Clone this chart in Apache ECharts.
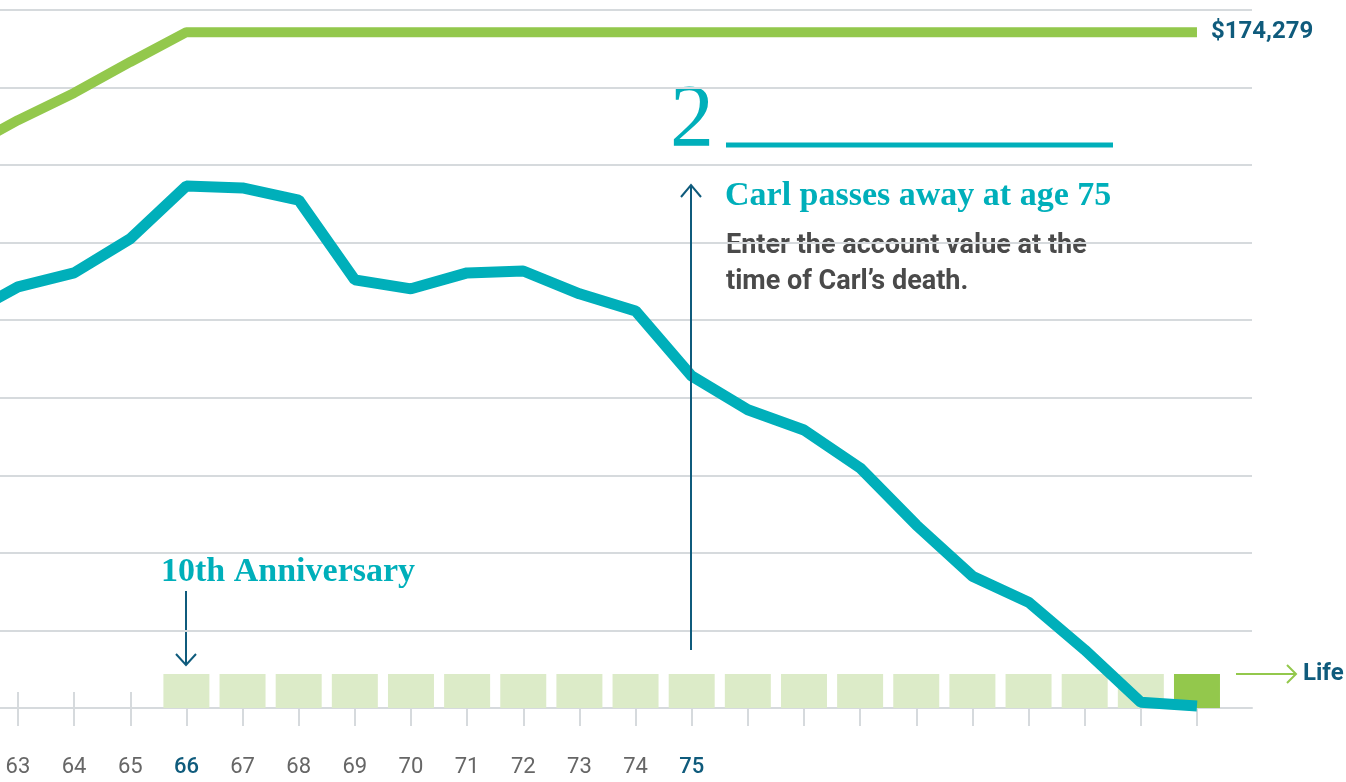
<!DOCTYPE html>
<html>
<head>
<meta charset="utf-8">
<title>Account value</title>
<script src="https://cdn.jsdelivr.net/npm/echarts@6/dist/echarts.min.js"></script>
<style>
html, body { margin: 0; padding: 0; background: #fff; }
#chart { width: 1346px; height: 782px; }
</style>
</head>
<body>
<div id="chart"></div>
<script>
// ages on the x axis (62 sits just off the left edge)
var ages = [62, 63, 64, 65, 66, 67, 68, 69, 70, 71, 72, 73, 74, 75, 76, 77, 78, 79, 80, 81, 82, 83, 84];
// account value (teal line)
var accountValue = [100600, 108600, 112200, 121000, 134600, 134100, 131000, 110400, 108100, 112200, 112700,
    106800, 102400, 85600, 76900, 71700, 61900, 47200, 34000, 27300, 15000, 1500, 500];
// benefit base (green line)
var benefitBase = [143600, 151600, 158600, 166600, 174279, 174279, 174279, 174279, 174279, 174279, 174279,
    174279, 174279, 174279, 174279, 174279, 174279, 174279, 174279, 174279, 174279, 174279, 174279];
// yearly blocks along the bottom
var blockAges = [66, 67, 68, 69, 70, 71, 72, 73, 74, 75, 76, 77, 78, 79, 80, 81, 82, 83, 84];
var blockValues = [8750, 8750, 8750, 8750, 8750, 8750, 8750, 8750, 8750, 8750, 8750, 8750, 8750, 8750, 8750, 8750, 8750, 8750, 8750];
var tickAges = [63, 64, 65, 66, 67, 68, 69, 70, 71, 72, 73, 74, 75, 76, 77, 78, 79, 80, 81, 82, 83, 84];
var labelAges = [63, 64, 65, 66, 67, 68, 69, 70, 71, 72, 73, 74, 75];
var highlightAges = [66, 75];

var teal = '#00afba';
var green = '#93c84c';
var paleGreen = '#dcebc8';
var navy = '#0f5b7c';
var gridGray = '#d6dadd';

var myChart = echarts.init(document.getElementById('chart'));

function pairs(xs, ys) {
    var out = [];
    for (var i = 0; i < xs.length; i++) out.push([xs[i], ys[i]]);
    return out;
}

var blockData = [];
for (var i = 0; i < blockAges.length; i++) {
    blockData.push({
        value: [blockAges[i], blockValues[i]],
        itemStyle: { color: i === blockAges.length - 1 ? green : paleGreen }
    });
}

function fmtMoney(v) {
    return '$' + String(v).replace(/\B(?=(\d{3})+(?!\d))/g, ',');
}

var option = {
    animation: false,
    backgroundColor: '#ffffff',
    grid: { left: 0, top: 10, width: 1252, height: 698 },
    xAxis: [
        {
            // axis runs a little past 63 on the left and past 84 on the right
            type: 'value', min: 62.68, max: 84.98,
            axisLine: { show: true, lineStyle: { color: gridGray, width: 2 } },
            axisTick: { show: true, customValues: tickAges, length: 18, lineStyle: { color: gridGray, width: 2 } },
            axisLabel: {
                customValues: labelAges,
                margin: 48,
                formatter: function (v) {
                    return highlightAges.indexOf(v) >= 0 ? '{hl|' + v + '}' : '{n|' + v + '}';
                },
                rich: {
                    n: { fontFamily: 'Roboto', fontSize: 22, color: '#666666' },
                    hl: { fontFamily: 'Roboto', fontSize: 22, color: navy, fontWeight: 500 }
                }
            },
            splitLine: { show: false }
        },
        {
            type: 'value', min: 62.68, max: 84.98, position: 'bottom',
            axisLine: { show: false },
            axisTick: { show: true, inside: true, customValues: tickAges, length: 16, lineStyle: { color: gridGray, width: 2 } },
            axisLabel: { show: false },
            splitLine: { show: false }
        }
    ],
    yAxis: {
        type: 'value', min: 0, max: 180000, interval: 20000,
        axisLine: { show: false },
        axisTick: { show: false },
        axisLabel: { show: false },
        splitLine: { lineStyle: { color: gridGray, width: 2 } }
    },
    series: [
        {
            name: 'Years', type: 'bar', barWidth: 46,
            data: blockData
        },
        {
            name: 'Benefit base', type: 'line', symbol: 'none',
            data: pairs(ages, benefitBase),
            lineStyle: { color: green, width: 10 },
            endLabel: {
                show: true, distance: 14,
                formatter: function (p) { return fmtMoney(p.value[1]); },
                fontFamily: 'Roboto', fontSize: 24, fontWeight: 'bold', color: navy
            }
        },
        {
            name: 'Account value', type: 'line', symbol: 'none',
            data: pairs(ages, accountValue),
            lineStyle: { color: teal, width: 11 }
        }
    ],
    graphic: [
        // 10th anniversary
        { type: 'text', x: 161, y: 572, style: { text: '10th Anniversary', font: 'bold 34px "Liberation Serif"', fill: teal, verticalAlign: 'middle' } },
        { type: 'line', shape: { x1: 186, y1: 591, x2: 186, y2: 664 }, style: { stroke: navy, lineWidth: 2 } },
        { type: 'polyline', shape: { points: [[176, 654], [186, 665], [196, 654]] }, style: { stroke: navy, lineWidth: 2, fill: null } },
        // age 75 marker
        { type: 'line', shape: { x1: 691, y1: 185, x2: 691, y2: 650 }, style: { stroke: navy, lineWidth: 2 }, z: 5 },
        { type: 'polyline', shape: { points: [[681, 197], [691, 185], [701, 197]] }, style: { stroke: navy, lineWidth: 2, fill: null }, z: 5 },
        { type: 'text', x: 670, y: 122, style: { text: '2', font: '88px "Liberation Serif"', fill: teal, verticalAlign: 'middle' } },
        { type: 'line', shape: { x1: 726, y1: 145, x2: 1113, y2: 145 }, style: { stroke: teal, lineWidth: 5 } },
        { type: 'text', x: 725, y: 196, style: { text: 'Carl passes away at age 75', font: 'bold 34px "Liberation Serif"', fill: teal, verticalAlign: 'middle' } },
        { type: 'text', x: 726, y: 246, z: -1, style: { text: 'Enter the account value at the', font: 'bold 27px Roboto', fill: '#4a4a4a', verticalAlign: 'middle' } },
        { type: 'text', x: 726, y: 282, z: -1, style: { text: 'time of Carl\u2019s death.', font: 'bold 27px Roboto', fill: '#4a4a4a', verticalAlign: 'middle' } },
        // life arrow
        { type: 'line', shape: { x1: 1236, y1: 674, x2: 1295, y2: 674 }, style: { stroke: green, lineWidth: 2 } },
        { type: 'polyline', shape: { points: [[1287, 665], [1296, 674], [1287, 683]] }, style: { stroke: green, lineWidth: 2, fill: null } },
        { type: 'text', x: 1303, y: 674, style: { text: 'Life', font: 'bold 24px Roboto', fill: navy, verticalAlign: 'middle' } }
    ]
};

myChart.setOption(option);
</script>
</body>
</html>
